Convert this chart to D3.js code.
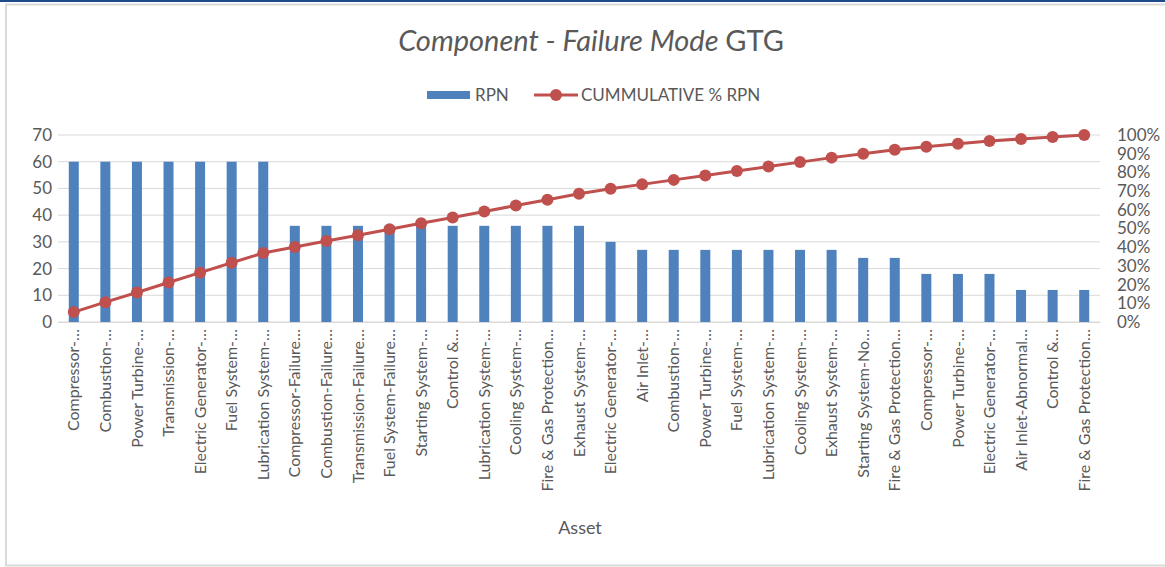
<!DOCTYPE html>
<html>
<head>
<meta charset="utf-8">
<script src="https://cdn.jsdelivr.net/npm/d3@7"></script>
<style>
  body { margin: 0; background: #fff; }
  svg { display: block; font-family: Lato, "Open Sans", sans-serif; }
</style>
</head>
<body>
<svg id="canvas_svg" width="1165" height="567"></svg>
<script>
// chart data
var labels = [
  "Compressor-…", "Combustion-…", "Power Turbine-…", "Transmission-…",
  "Electric Generator-…", "Fuel System-…", "Lubrication System-…",
  "Compressor-Failure…", "Combustion-Failure…", "Transmission-Failure…",
  "Fuel System-Failure…", "Starting System-…", "Control &…",
  "Lubrication System-…", "Cooling System-…", "Fire & Gas Protection…",
  "Exhaust System-…", "Electric Generator-…", "Air Inlet-…", "Combustion-…",
  "Power Turbine-…", "Fuel System-…", "Lubrication System-…",
  "Cooling System-…", "Exhaust System-…", "Starting System-No…",
  "Fire & Gas Protection…", "Compressor-…", "Power Turbine-…",
  "Electric Generator-…", "Air Inlet-Abnormal…", "Control &…",
  "Fire & Gas Protection…"
];
var rpn = [60, 60, 60, 60, 60, 60, 60,
  36, 36, 36, 36, 36, 36, 36, 36, 36, 36,
  30, 27, 27, 27, 27, 27, 27, 27,
  24, 24, 18, 18, 18, 12, 12, 12];
var cumPct = [5.3, 10.6, 15.8, 21.1, 26.4, 31.7, 36.9,
  40.1, 43.3, 46.4, 49.6, 52.8, 55.9, 59.1, 62.3, 65.4, 68.6,
  71.2, 73.6, 76.0, 78.4, 80.7, 83.1, 85.5, 87.9,
  90.0, 92.1, 93.7, 95.3, 96.8, 97.9, 98.9, 100];
var leftTicks = [0, 10, 20, 30, 40, 50, 60, 70];
var rightTicks = [0, 10, 20, 30, 40, 50, 60, 70, 80, 90, 100];

var svg = d3.select("#canvas_svg");
var textCol = "#595959";
var barCol = "#4f81bd";
var lineCol = "#c0504d";

// frame
svg.append("rect").attr("x", 0).attr("y", 0).attr("width", 1165).attr("height", 2).attr("fill", "#1f4a8a");
svg.append("rect").attr("x", 6).attr("y", 4.5).attr("width", 1170).attr("height", 561)
  .attr("fill", "#fff").attr("stroke", "#d9d9d9").attr("stroke-width", 2);

var plotL = 58, plotR = 1100, plotT = 135, plotB = 322;

var x = d3.scaleBand()
  .domain(d3.range(labels.length))
  .range([plotL, plotR]);
var y = d3.scaleLinear().domain([0, 70]).range([plotB, plotT]);
var y2 = d3.scaleLinear().domain([0, 100]).range([plotB, plotT]);

// gridlines
svg.append("g")
  .selectAll("line")
  .data(leftTicks)
  .enter()
  .append("line")
  .attr("x1", plotL).attr("x2", plotR)
  .attr("y1", d => y(d)).attr("y2", d => y(d))
  .attr("stroke", "#d9d9d9").attr("stroke-width", 1);

// left axis
var yAxis = d3.axisLeft(y).tickValues(leftTicks).tickSize(0).tickPadding(6);
var gy = svg.append("g").attr("transform", "translate(" + plotL + ",0)").call(yAxis);
gy.select(".domain").remove();
gy.selectAll("text").attr("fill", textCol).attr("font-size", 17)
  .attr("font-family", "Lato, sans-serif");

// right axis
var yAxis2 = d3.axisRight(y2).tickValues(rightTicks).tickSize(0).tickPadding(17)
  .tickFormat(d => d + "%");
var gy2 = svg.append("g").attr("transform", "translate(" + plotR + ",0)").call(yAxis2);
gy2.select(".domain").remove();
gy2.selectAll("text").attr("fill", textCol).attr("font-size", 17)
  .attr("font-family", "Lato, sans-serif");

// bars
var barW = 10;
svg.append("g")
  .selectAll("rect")
  .data(rpn)
  .enter()
  .append("rect")
  .attr("x", (d, i) => x(i) + x.bandwidth() / 2 - barW / 2)
  .attr("y", d => y(d))
  .attr("width", barW)
  .attr("height", d => plotB - y(d))
  .attr("fill", barCol);

// x axis
var xAxis = d3.axisBottom(x).tickSize(0).tickPadding(0).tickFormat(i => labels[i]);
var gx = svg.append("g").attr("transform", "translate(0," + plotB + ")").call(xAxis);
gx.select(".domain").attr("stroke", "#d9d9d9");
gx.selectAll("text")
  .attr("fill", textCol)
  .attr("font-size", 16)
  .attr("font-family", "Lato, sans-serif")
  .attr("text-anchor", "end")
  .attr("transform", "translate(0,7) rotate(-90)")
  .attr("x", 0).attr("y", 0).attr("dy", "0.35em");

// cumulative line
var line = d3.line()
  .x((d, i) => x(i) + x.bandwidth() / 2)
  .y(d => y2(d));
svg.append("path")
  .datum(cumPct)
  .attr("d", line)
  .attr("fill", "none")
  .attr("stroke", lineCol)
  .attr("stroke-width", 3);
svg.append("g")
  .selectAll("circle")
  .data(cumPct)
  .enter()
  .append("circle")
  .attr("cx", (d, i) => x(i) + x.bandwidth() / 2)
  .attr("cy", d => y2(d))
  .attr("r", 6)
  .attr("fill", lineCol);

// title
var title = svg.append("text")
  .attr("x", 591).attr("y", 51)
  .attr("text-anchor", "middle")
  .attr("fill", textCol)
  .attr("font-size", 29)
  .attr("font-family", "Lato, sans-serif");
title.append("tspan").attr("font-style", "italic").text("Component - Failure Mode ");
title.append("tspan").text("GTG");

// legend
var lg = svg.append("g").attr("transform", "translate(0,95)");
lg.append("rect").attr("x", 427).attr("y", -4).attr("width", 43).attr("height", 8).attr("fill", barCol);
lg.append("text").attr("x", 475).attr("y", 0).attr("dy", "0.35em")
  .attr("fill", textCol).attr("font-size", 17).text("RPN");
lg.append("line").attr("x1", 534).attr("x2", 578).attr("y1", 0).attr("y2", 0)
  .attr("stroke", lineCol).attr("stroke-width", 3);
lg.append("circle").attr("cx", 556).attr("cy", 0).attr("r", 6).attr("fill", lineCol);
lg.append("text").attr("x", 581).attr("y", 0).attr("dy", "0.35em")
  .attr("fill", textCol).attr("font-size", 17).text("CUMMULATIVE % RPN");

// x title
svg.append("text")
  .attr("x", 580).attr("y", 534)
  .attr("text-anchor", "middle")
  .attr("fill", textCol)
  .attr("font-size", 18)
  .text("Asset");
</script>
</body>
</html>
